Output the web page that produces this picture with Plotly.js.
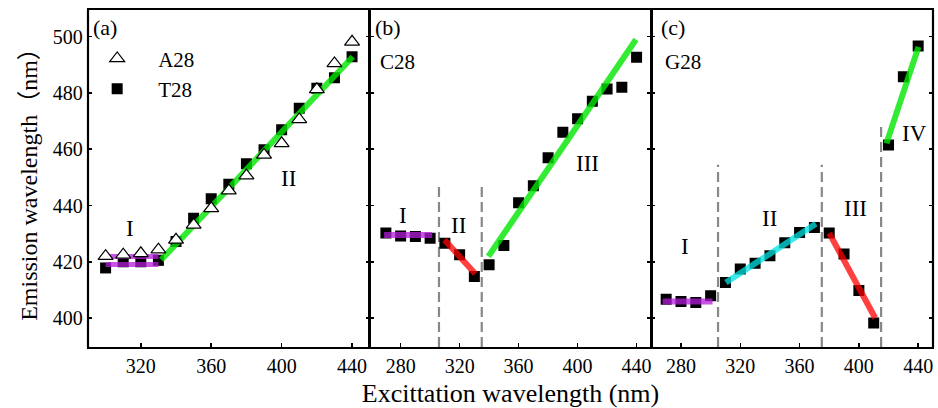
<!DOCTYPE html>
<html>
<head>
<meta charset="utf-8">
<script src="https://cdn.plot.ly/plotly-3.0.1.min.js"></script>
<style>html,body{margin:0;padding:0;background:#fff;}#chart{width:938px;height:408px;}</style>
</head>
<body>
<div id="chart"></div>
<script>
// ---------- data ----------
// Panel (a)
const aX = [300, 310, 320, 330, 340, 350, 360, 370, 380, 390, 400, 410, 420, 430, 440];
const aA28 = [422, 422.5, 423, 424.3, 427.8, 433.1, 439, 445.3, 450.6, 458, 462.1, 470.6, 481.3, 490.5, 498.2];
const aT28 = [417.8, 420, 420, 420.5, 427.2, 435.5, 442.4, 447.6, 454.8, 459.8, 466.9, 474.6, 481.7, 485.4, 492.9];
const aFitIx = [300, 330];
const aFitIyA = [421.9, 421.9];
const aFitIyT = [419, 419];
const aFitIIx = [331.6, 440.4];
const aFitIIy = [420.7, 492.9];

// Panel (b) C28
const bX = [270, 280, 290, 300, 310, 320, 330, 340, 350, 360, 370, 380, 390, 400, 410, 420, 430, 440];
const bC28 = [430.2, 429.2, 429, 428.4, 426.6, 422.5, 414.8, 418.9, 425.8, 441, 447, 457, 466, 470.8, 477.1, 481.4, 482, 492.7];
const bFitIx = [268.8, 301.4];
const bFitIy = [429.5, 429.5];
const bFitIIx = [309.7, 330.6];
const bFitIIy = [427.8, 415.7];
const bFitIIIx = [339.5, 439.6];
const bFitIIIy = [421.9, 499];
const bDashX = [306, 335];
const bDashTop = [448, 448];

// Panel (c) G28
const cX = [270, 280, 290, 300, 310, 320, 330, 340, 350, 360, 370, 380, 390, 400, 410, 420, 430, 440];
const cG28 = [406.7, 405.9, 405.5, 407.9, 412.6, 417.4, 419.5, 422.1, 426.8, 430.4, 432.2, 430.2, 422.8, 409.8, 398.2, 461.5, 485.8, 496.7];
const cFitIx = [267.6, 301.3];
const cFitIy = [405.9, 405.9];
const cFitIIx = [310.3, 371];
const cFitIIy = [412.6, 433.5];
const cFitIIIx = [380, 411];
const cFitIIIy = [430.2, 400];
const cFitIVx = [418.6, 440.2];
const cFitIVy = [462.1, 496.4];
const cDashX = [305, 375, 415];
const cDashTop = [454.5, 454.5, 468.5];

// Region labels
const aRegions = [{t: 'I', x: 313.7, y: 432}, {t: 'II', x: 404, y: 449.7}];
const bRegions = [{t: 'I', x: 281.5, y: 436.3}, {t: 'II', x: 319.3, y: 433}, {t: 'III', x: 407, y: 455}];
const cRegions = [{t: 'I', x: 283, y: 425.4}, {t: 'II', x: 339.5, y: 435.5}, {t: 'III', x: 398, y: 439}, {t: 'IV', x: 437.3, y: 465.7}];

const yTicks = [400, 420, 440, 460, 480, 500];
const xTicksA = [320, 360, 400, 440];
const xTicksBC = [280, 320, 360, 400, 440];
const yRange = [389.7, 509.5];

// ---------- styles ----------
const SERIF = 'Liberation Serif, Times New Roman, serif';
const PURPLE = 'rgba(180,30,220,0.75)';
const GREEN = 'rgba(0,230,0,0.8)';
const RED = 'rgba(255,0,0,0.75)';
const CYAN = 'rgba(0,225,225,0.75)';
const FITW = 6;

function fit(x, y, color, xa, w) {
  return {x: x, y: y, xaxis: xa, yaxis: 'y', mode: 'lines', showlegend: false, hoverinfo: 'skip',
          line: {color: color, width: w || FITW}};
}
function squares(x, y, xa, name, show) {
  return {x: x, y: y, xaxis: xa, yaxis: 'y', mode: 'markers', name: name, showlegend: !!show,
          legendrank: 2,
          marker: {symbol: 'square', size: 11, color: '#000'}};
}
function dashes(xs, tops, xa) {
  const out = [];
  xs.forEach((v, i) => {
    out.push({x: [v, v], y: [yRange[0], tops[i]], xaxis: xa, yaxis: 'y', mode: 'lines', showlegend: false,
              hoverinfo: 'skip', line: {color: '#888', width: 2.2, dash: '10px,5px'}});
  });
  return out;
}

const traces = [];
// (a)
traces.push(squares(aX, aT28, 'x', 'T28', true));
traces.push(fit(aFitIx, aFitIyA, PURPLE, 'x', 5));
traces.push(fit(aFitIx, aFitIyT, PURPLE, 'x', 5));
traces.push(fit(aFitIIx, aFitIIy, GREEN, 'x'));
traces.push({x: aX, y: aA28, xaxis: 'x', yaxis: 'y', mode: 'markers', name: 'A28', legendrank: 1,
             marker: {symbol: 'triangle-up', size: 13, color: '#fff', line: {color: '#000', width: 1.2}}});
// (b)
dashes(bDashX, bDashTop, 'x2').forEach(t => traces.push(t));
traces.push(squares(bX, bC28, 'x2', 'C28', false));
traces.push(fit(bFitIx, bFitIy, PURPLE, 'x2'));
traces.push(fit(bFitIIx, bFitIIy, RED, 'x2'));
traces.push(fit(bFitIIIx, bFitIIIy, GREEN, 'x2'));
// (c)
dashes(cDashX, cDashTop, 'x3').forEach(t => traces.push(t));
traces.push(squares(cX, cG28, 'x3', 'G28', false));
traces.push(fit(cFitIx, cFitIy, PURPLE, 'x3'));
traces.push(fit(cFitIIx, cFitIIy, CYAN, 'x3'));
traces.push(fit(cFitIIIx, cFitIIIy, RED, 'x3'));
traces.push(fit(cFitIVx, cFitIVy, GREEN, 'x3'));

const annotations = [];
function lab(text, xref, x, y, size, anchor) {
  annotations.push({text: text, xref: xref, yref: 'y domain', x: x, y: y, showarrow: false,
                    xanchor: anchor || 'left', yanchor: 'middle', font: {family: SERIF, size: size, color: '#000'}});
}
lab('(a)', 'x domain', 0.012, 0.947, 22);
lab('(b)', 'x2 domain', 0.012, 0.947, 22);
lab('(c)', 'x3 domain', 0.028, 0.947, 22);
lab('C28', 'x2 domain', 0.03, 0.846, 21);
lab('G28', 'x3 domain', 0.04, 0.846, 21);
function regions(list, xa) {
  list.forEach(r => annotations.push({text: r.t, xref: xa, yref: 'y', x: r.x, y: r.y, showarrow: false,
    xanchor: 'center', yanchor: 'middle', font: {family: SERIF, size: 23, color: '#000'}}));
}
regions(aRegions, 'x');
regions(bRegions, 'x2');
regions(cRegions, 'x3');

const xBase = {ticks: 'inside', ticklen: 4, tickwidth: 1.5, tickcolor: '#000', showline: true, linewidth: 2,
               linecolor: '#000', mirror: true, showgrid: false, zeroline: false, anchor: 'y',
               tickfont: {family: SERIF, size: 20, color: '#000'}, fixedrange: true};
const yBase = {range: yRange, tickvals: yTicks, ticks: 'inside', ticklen: 4, tickwidth: 1.5, tickcolor: '#000',
               showline: true, linewidth: 1.2, linecolor: '#000', mirror: 'ticks', showgrid: false, zeroline: false,
               fixedrange: true};
const layout = {
  width: 938, height: 408,
  margin: {l: 88, r: 5, t: 10, b: 61},
  paper_bgcolor: '#fff', plot_bgcolor: '#fff',
  font: {family: SERIF, color: '#000'},
  showlegend: true,
  legend: {x: -0.014, y: 0.916, xanchor: 'left', yanchor: 'top', bgcolor: 'rgba(0,0,0,0)',
           font: {family: SERIF, size: 21, color: '#000'}, itemwidth: 72, tracegroupgap: 0},
  xaxis: Object.assign({}, xBase, {domain: [0, 1/3], range: [290, 450], tickvals: xTicksA}),
  xaxis2: Object.assign({}, xBase, {domain: [1/3, 2/3], range: [259, 450], tickvals: xTicksBC,
    title: {text: 'Excittation wavelength (nm)', standoff: 14, font: {family: SERIF, size: 26, color: '#000'}}}),
  xaxis3: Object.assign({}, xBase, {domain: [2/3, 1], range: [260, 450], tickvals: xTicksBC}),
  yaxis: Object.assign({}, yBase, {anchor: 'x', tickfont: {family: SERIF, size: 20, color: '#000'},
          title: {text: 'Emission wavelength（nm）', standoff: 8,
                  font: {family: 'Liberation Serif, Noto Sans CJK SC, serif', size: 24, color: '#000'}}}),
  yaxis2: Object.assign({}, yBase, {anchor: 'x2', overlaying: 'y', showticklabels: false}),
  yaxis3: Object.assign({}, yBase, {anchor: 'x3', overlaying: 'y', showticklabels: false}),
  annotations: annotations,
  shapes: [
    {type: 'line', xref: 'x domain', yref: 'y domain', x0: 0, x1: 0, y0: 0, y1: 1, line: {color: '#000', width: 2.2}},
    {type: 'line', xref: 'x3 domain', yref: 'y domain', x0: 1, x1: 1, y0: 0, y1: 1, line: {color: '#000', width: 2.2}}
  ]
};
traces.push({x: [null], y: [null], xaxis: 'x2', yaxis: 'y2', showlegend: false, hoverinfo: 'skip'});
traces.push({x: [null], y: [null], xaxis: 'x3', yaxis: 'y3', showlegend: false, hoverinfo: 'skip'});

Plotly.newPlot('chart', traces, layout, {staticPlot: true, displayModeBar: false});
</script>
</body>
</html>
